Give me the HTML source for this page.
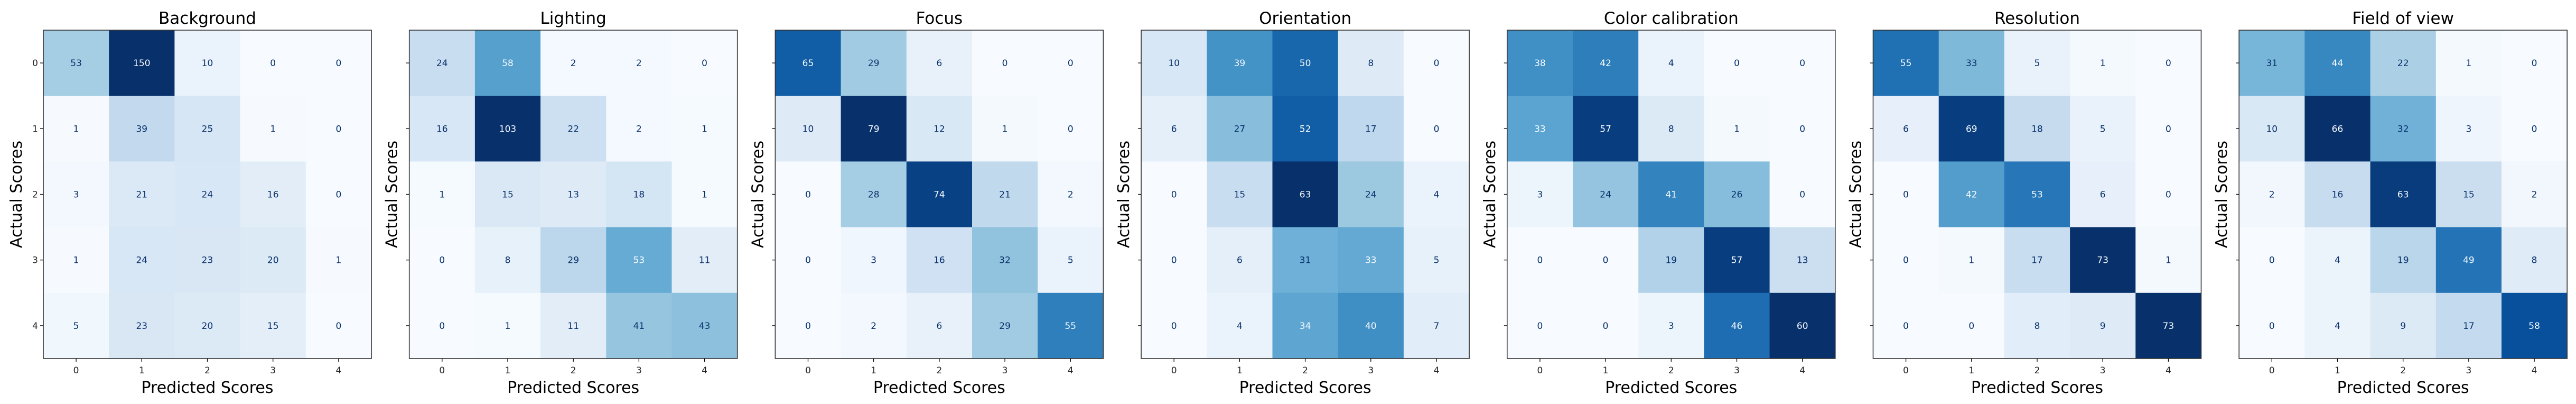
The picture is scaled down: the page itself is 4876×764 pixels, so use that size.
<!DOCTYPE html>
<html><head><meta charset="utf-8"><style>
html,body{margin:0;padding:0;background:#fff}
svg{display:block;font-family:"DejaVu Sans","Liberation Sans",sans-serif}
</style></head><body>
<svg id="chart" width="4876" height="764" viewBox="0 0 4876 764" xmlns="http://www.w3.org/2000/svg"></svg>
<script>
const titles = ["Background","Lighting","Focus","Orientation","Color calibration","Resolution","Field of view"];
const tickLabels = ["0","1","2","3","4"];
const mBackground = [[53,150,10,0,0],[1,39,25,1,0],[3,21,24,16,0],[1,24,23,20,1],[5,23,20,15,0]];
const mLighting = [[24,58,2,2,0],[16,103,22,2,1],[1,15,13,18,1],[0,8,29,53,11],[0,1,11,41,43]];
const mFocus = [[65,29,6,0,0],[10,79,12,1,0],[0,28,74,21,2],[0,3,16,32,5],[0,2,6,29,55]];
const mOrientation = [[10,39,50,8,0],[6,27,52,17,0],[0,15,63,24,4],[0,6,31,33,5],[0,4,34,40,7]];
const mColor = [[38,42,4,0,0],[33,57,8,1,0],[3,24,41,26,0],[0,0,19,57,13],[0,0,3,46,60]];
const mResolution = [[55,33,5,1,0],[6,69,18,5,0],[0,42,53,6,0],[0,1,17,73,1],[0,0,8,9,73]];
const mFov = [[31,44,22,1,0],[10,66,32,3,0],[2,16,63,15,2],[0,4,19,49,8],[0,4,9,17,58]];
const matrices = [mBackground,mLighting,mFocus,mOrientation,mColor,mResolution,mFov];

const NS="http://www.w3.org/2000/svg";
const svg=document.getElementById('chart');
const blues=["#f7fbff","#deebf7","#c6dbef","#9ecae1","#6baed6","#4292c6","#2171b5","#08519c","#08306b"];
function hex(c){return [parseInt(c.slice(1,3),16),parseInt(c.slice(3,5),16),parseInt(c.slice(5,7),16)];}
function cmap(t){t=Math.max(0,Math.min(1,t));const p=t*8,i=Math.min(7,Math.floor(p)),f=p-i;const a=hex(blues[i]),b=hex(blues[i+1]);return "rgb("+a.map((v,k)=>Math.round(v+(b[k]-v)*f)).join(",")+")";}
function el(tag,attrs,parent){const e=document.createElementNS(NS,tag);for(const k in attrs)e.setAttribute(k,attrs[k]);(parent||svg).appendChild(e);return e;}

const PITCH=692.7, LEFT0=82, TOP=57, SIZE=621, N=5, CELL=SIZE/N;
matrices.forEach((m,p)=>{
  const x0=LEFT0+p*PITCH;
  const g=el('g',{});
  
  
  const flat=m.flat(), mn=Math.min(...flat), mx=Math.max(...flat), thr=(mx+mn)/2;
  const xs=i=>x0+(i+0.5)*CELL, ys=j=>TOP+(j+0.5)*CELL;
  m.forEach((row,r)=>row.forEach((v,c)=>{
    const rect=el('rect',{x:xs(c)-CELL/2,y:ys(r)-CELL/2,width:CELL+0.5,height:CELL+0.5,fill:cmap((v-mn)/(mx-mn))},g);
    
    
    const t=el('text',{x:xs(c),y:ys(r)+6,'text-anchor':'middle','font-size':'17',fill:v>=thr?blues[0]:blues[8]},g);
    
    
    t.textContent=v;
  }));
  el('rect',{x:x0,y:TOP,width:SIZE,height:SIZE,fill:'none',stroke:'#333','stroke-width':1.6},g);
  tickLabels.forEach((lab,i)=>{
    el('line',{x1:xs(i),x2:xs(i),y1:TOP+SIZE,y2:TOP+SIZE+6,stroke:'#000','stroke-width':1.3},g);
    const tx=el('text',{x:xs(i),y:TOP+SIZE+28,'text-anchor':'middle','font-size':'17',fill:'#222'},g);
    
    
    tx.textContent=lab;
    el('line',{x1:x0-6,x2:x0,y1:ys(i),y2:ys(i),stroke:'#000','stroke-width':1.3},g);
    if(p===0){
      const ty=el('text',{x:x0-10,y:ys(i)+6,'text-anchor':'end','font-size':'17',fill:'#222'},g);
      
      
      ty.textContent=lab;
    }
  });
  const title=el('text',{x:x0+SIZE/2,y:45,'text-anchor':'middle','font-size':'31',fill:'#000'},g);
  
  
  title.textContent=titles[p];
  const xl=el('text',{x:x0+SIZE/2,y:743,'text-anchor':'middle','font-size':'30',fill:'#000'},g);
  
  
  xl.textContent='Predicted Scores';
  const yx=p===0?x0-41:x0-23, yy=TOP+SIZE/2;
  const yl=el('text',{x:yx,y:yy,'text-anchor':'middle','font-size':'30',fill:'#000',transform:'rotate(-90 '+yx+' '+yy+')'},g);
  
  
  yl.textContent='Actual Scores';
});
</script>
</body></html>
